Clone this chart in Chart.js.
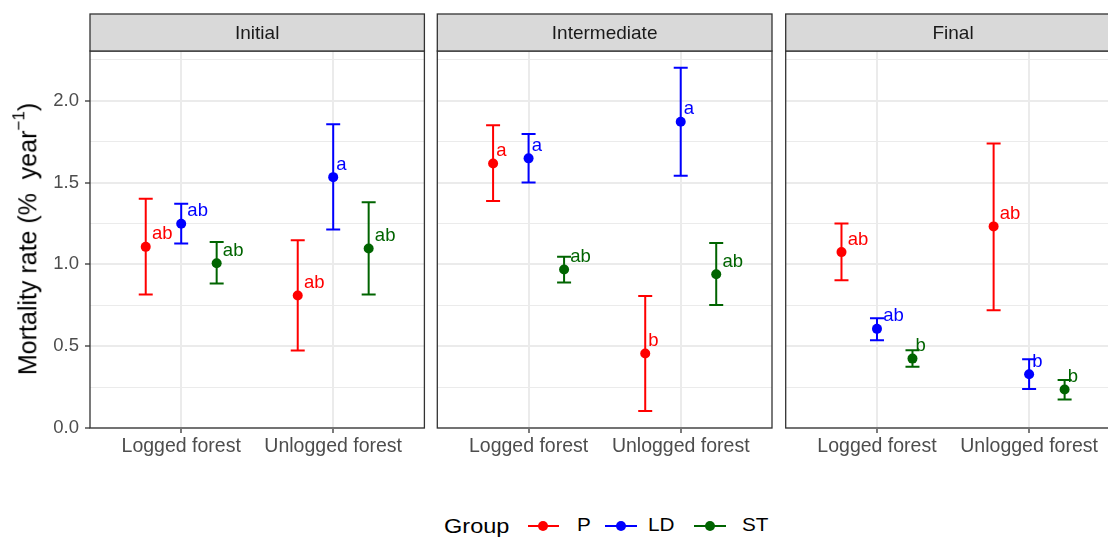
<!DOCTYPE html>
<html>
<head>
<meta charset="utf-8">
<script src="https://cdn.jsdelivr.net/npm/chart.js@4.4.1/dist/chart.umd.min.js"></script>
<style>
  html, body { margin: 0; padding: 0; background: #fff; }
  body { position: relative; width: 1108px; height: 537px; overflow: hidden;
         font-family: "Liberation Sans", Arial, sans-serif; }
  canvas { position: absolute; top: 0; }
  #ytitle { position: absolute; left: 27px; top: 239px; white-space: nowrap;
            transform: translate(-50%, -50%) rotate(-90deg);
            font-size: 25px; color: #000; line-height: 1; }
  #ytitle sup { font-size: 68%; position: relative; top: -0.15em; }
  .lg-text { position: absolute; white-space: nowrap; color: #000; line-height: 1;
             transform-origin: 0 50%; }
  .lg-line { position: absolute; height: 2px; width: 31.5px; }
  .lg-dot { position: absolute; width: 10px; height: 10px; border-radius: 50%; }
</style>
</head>
<body>
<canvas id="panel0" width="430" height="470" style="left:0px"></canvas>
<canvas id="panel1" width="350" height="470" style="left:430px"></canvas>
<canvas id="panel2" width="350" height="470" style="left:780px"></canvas>
<div id="ytitle">Mortality rate (%&nbsp; year<sup>−1</sup>)</div>
<div id="legend"></div>
<script>
// Facets, x categories and groups
const phases = ['Initial', 'Intermediate', 'Final'];
const forests = ['Logged forest', 'Unlogged forest'];
const groups = ['P', 'LD', 'ST'];
const groupColors = ['#FF0000', '#0000FF', '#006400'];

// One row per phase, values for [Logged, Unlogged]
const pMean = [[1.107, 0.810], [1.617, 0.455], [1.075, 1.232]];
const pLow  = [[0.816, 0.473], [1.387, 0.104], [0.903, 0.720]];
const pHigh = [[1.401, 1.148], [1.850, 0.807], [1.250, 1.739]];
const pLetters = [['ab', 'ab'], ['a', 'b'], ['ab', 'ab']];

const ldMean = [[1.248, 1.533], [1.648, 1.872], [0.606, 0.328]];
const ldLow  = [[1.128, 1.213], [1.501, 1.541], [0.536, 0.239]];
const ldHigh = [[1.370, 1.857], [1.796, 2.202], [0.671, 0.420]];
const ldLetters = [['ab', 'a'], ['a', 'a'], ['ab', 'b']];

const stMean = [[1.007, 1.097], [0.969, 0.940], [0.424, 0.235]];
const stLow  = [[0.883, 0.816], [0.889, 0.752], [0.375, 0.174]];
const stHigh = [[1.136, 1.380], [1.046, 1.131], [0.475, 0.294]];
const stLetters = [['ab', 'ab'], ['ab', 'ab'], ['b', 'b']];

const yTickLabels = ['0.0', '0.5', '1.0', '1.5', '2.0'];
const yMax = 2.304;

const means = [pMean, ldMean, stMean];
const lows = [pLow, ldLow, stLow];
const highs = [pHigh, ldHigh, stHigh];
const letters = [pLetters, ldLetters, stLetters];

const FONT = '"Liberation Sans", Arial, sans-serif';
const dodgeWidth = 0.7;
const capHalf = 0.046;

const isMajor = v => Math.abs(v * 2 - Math.round(v * 2)) < 1e-6;

// Error bars under the points, letters above them, facet strip + frame on top
const facetPlugin = {
  id: 'facet',
  beforeDatasetsDraw(chart) {
    const { ctx, scales: { x, y } } = chart;
    chart.data.datasets.forEach(ds => {
      ds.data.forEach(pt => {
        const xp = x.getPixelForValue(pt.x);
        const xa = x.getPixelForValue(pt.x - capHalf);
        const xb = x.getPixelForValue(pt.x + capHalf);
        const ylo = y.getPixelForValue(pt.lo);
        const yhi = y.getPixelForValue(pt.hi);
        ctx.save();
        ctx.strokeStyle = ds.borderColor;
        ctx.lineWidth = 2;
        ctx.beginPath();
        ctx.moveTo(xp, ylo); ctx.lineTo(xp, yhi);
        ctx.moveTo(xa, yhi); ctx.lineTo(xb, yhi);
        ctx.moveTo(xa, ylo); ctx.lineTo(xb, ylo);
        ctx.stroke();
        ctx.restore();
      });
    });
  },
  afterDatasetsDraw(chart) {
    const { ctx, scales: { x, y } } = chart;
    ctx.save();
    ctx.font = '18.5px ' + FONT;
    ctx.textBaseline = 'alphabetic';
    ctx.textAlign = 'left';
    chart.data.datasets.forEach(ds => {
      ctx.fillStyle = ds.borderColor;
      ds.data.forEach(pt => {
        const xp = x.getPixelForValue(pt.x);
        const yp = y.getPixelForValue(pt.y);
        const w = ctx.measureText(pt.letter).width;
        ctx.fillText(pt.letter, xp + 0.3 * w, yp - 7.5);
      });
    });
    ctx.restore();
  },
  afterDraw(chart, args, opts) {
    const { ctx, chartArea: { left, right, top, bottom } } = chart;
    const stripTop = 14;
    ctx.save();
    ctx.strokeStyle = '#333333';
    ctx.lineWidth = 1.3;
    ctx.strokeRect(left, top, right - left, bottom - top);
    ctx.fillStyle = '#D9D9D9';
    ctx.fillRect(left, stripTop, right - left, top - stripTop);
    ctx.strokeRect(left, stripTop, right - left, top - stripTop);
    ctx.fillStyle = '#1A1A1A';
    ctx.font = '19px ' + FONT;
    ctx.textAlign = 'center';
    ctx.textBaseline = 'middle';
    ctx.fillText(opts.title, (left + right) / 2, (stripTop + top) / 2 + 1);
    ctx.restore();
  }
};

const canvasPad = [[0, 5.6], [7.3, 8], [5.7, 9.6]];

phases.forEach((phase, pi) => {
  const datasets = groups.map((g, gi) => ({
    label: g,
    borderColor: groupColors[gi],
    backgroundColor: groupColors[gi],
    pointRadius: 5,
    pointBorderWidth: 0,
    clip: false,
    data: forests.map((f, fi) => ({
      x: fi + 1 + (gi - 1) * dodgeWidth / 3,
      y: means[gi][pi][fi],
      lo: lows[gi][pi][fi],
      hi: highs[gi][pi][fi],
      letter: letters[gi][pi][fi]
    }))
  }));

  new Chart(document.getElementById('panel' + pi), {
    type: 'scatter',
    data: { datasets },
    options: {
      responsive: false,
      animation: false,
      devicePixelRatio: 1,
      events: [],
      layout: { padding: { top: 51, left: canvasPad[pi][0], right: canvasPad[pi][1], bottom: 0 } },
      plugins: {
        legend: { display: false },
        tooltip: { enabled: false },
        facet: { title: phase }
      },
      scales: {
        x: {
          type: 'linear',
          min: 0.4,
          max: 2.6,
          afterBuildTicks: s => { s.ticks = forests.map((f, i) => ({ value: i + 1 })); },
          afterFit: s => { s.height = 42; },
          ticks: {
            autoSkip: false,
            maxRotation: 0,
            padding: 2,
            color: '#4D4D4D',
            font: { family: FONT, size: 19.5 },
            callback: v => forests[Math.round(v) - 1]
          },
          grid: { color: '#EBEBEB', lineWidth: 2, tickColor: '#333333', tickLength: 5, tickWidth: 1.3 },
          border: { display: false }
        },
        y: {
          min: 0,
          max: yMax,
          afterFit: s => { s.width = pi === 0 ? 90 : 0; },
          ticks: {
            display: pi === 0,
            stepSize: 0.25,
            includeBounds: false,
            autoSkip: false,
            padding: 6,
            color: '#4D4D4D',
            font: { family: FONT, size: 18.5 },
            callback: v => isMajor(v) ? yTickLabels[Math.round(v * 2)] : ''
          },
          grid: {
            color: '#EBEBEB',
            lineWidth: c => isMajor(c.tick.value) ? 2 : 1,
            drawTicks: pi === 0,
            tickLength: 5,
            tickWidth: 1.3,
            tickColor: c => isMajor(c.tick.value) ? '#333333' : 'rgba(0,0,0,0)'
          },
          border: { display: false }
        }
      }
    },
    plugins: [facetPlugin]
  });
});

// Legend row: title, then a line-and-dot key and a label per group
const legend = document.getElementById('legend');
const addText = (txt, left, size, baseline, stretch) => {
  const d = document.createElement('div');
  d.className = 'lg-text';
  d.textContent = txt;
  d.style.left = left + 'px';
  d.style.fontSize = size + 'px';
  d.style.top = (baseline - 0.8465 * size) + 'px';
  d.style.transform = 'scaleX(' + stretch + ')';
  legend.appendChild(d);
};
const keyLefts = [527.7, 605, 694];
const labelLefts = [576.7, 648, 741.7];
const keyY = 525.7;
addText('Group', 444, 21, 532.3, 1.12);
groups.forEach((g, gi) => {
  const line = document.createElement('div');
  line.className = 'lg-line';
  line.style.left = keyLefts[gi] + 'px';
  line.style.top = (keyY - 1) + 'px';
  line.style.background = groupColors[gi];
  legend.appendChild(line);
  const dot = document.createElement('div');
  dot.className = 'lg-dot';
  dot.style.left = (keyLefts[gi] + 15.75 - 5) + 'px';
  dot.style.top = (keyY - 5) + 'px';
  dot.style.background = groupColors[gi];
  legend.appendChild(dot);
  addText(g, labelLefts[gi], 18, 531.7, 1.15);
});
</script>
</body>
</html>
